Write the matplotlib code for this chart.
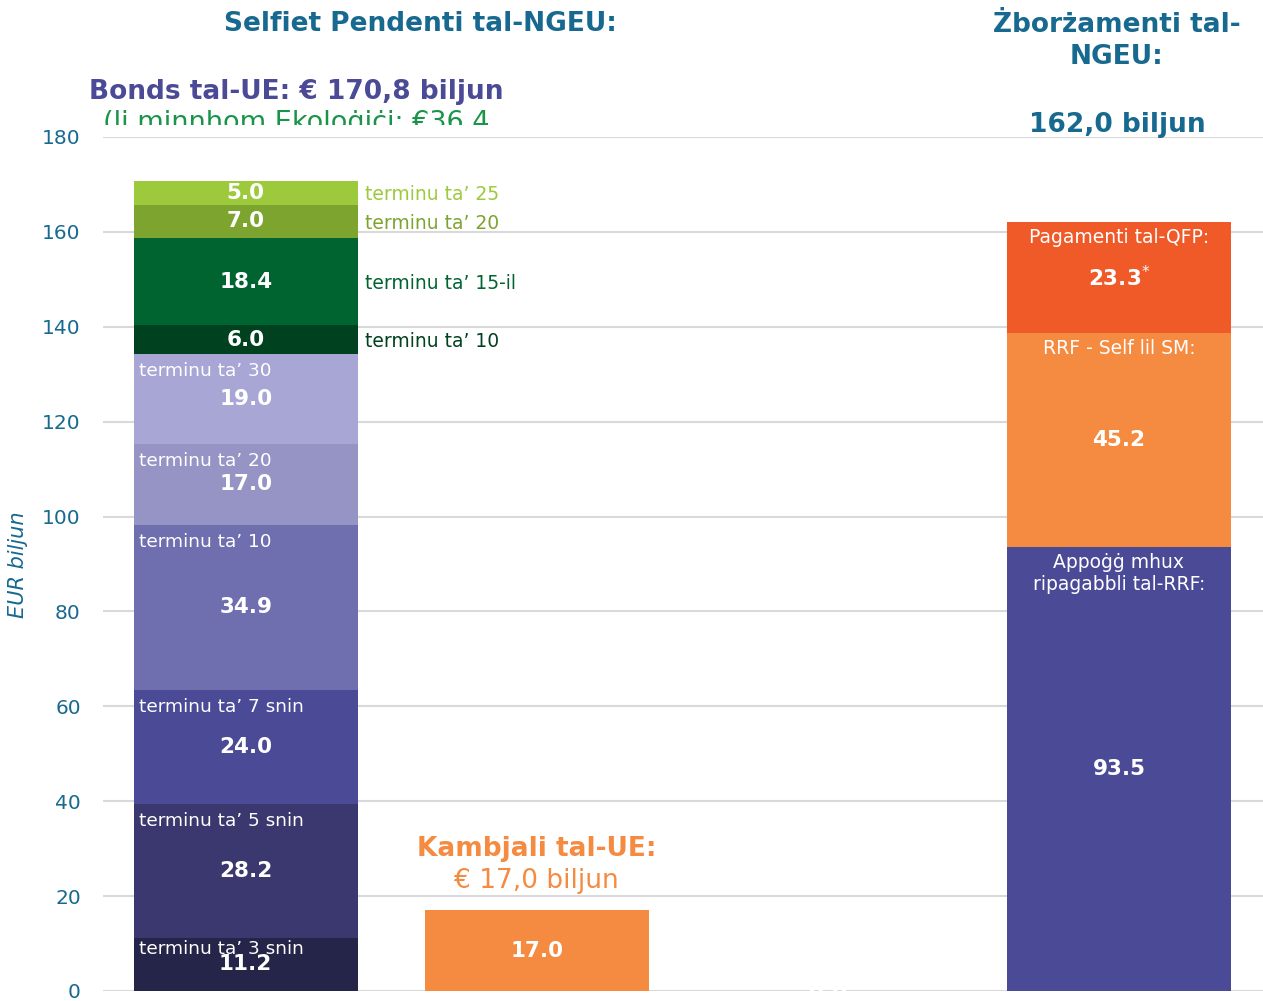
import matplotlib
matplotlib.use("Agg")
import matplotlib.pyplot as plt
from matplotlib.transforms import Bbox

# ---- data ----
categories = ["Bonds tal-UE", "Kambjali tal-UE", "", "Żborżamenti tal-NGEU"]
bond_values = [11.2, 28.2, 24.0, 34.9, 17.0, 19.0, 6.0, 18.4, 7.0, 5.0]
bond_labels = ["terminu ta’ 3 snin", "terminu ta’ 5 snin", "terminu ta’ 7 snin",
               "terminu ta’ 10", "terminu ta’ 20", "terminu ta’ 30",
               "terminu ta’ 10", "terminu ta’ 15-il", "terminu ta’ 20", "terminu ta’ 25"]
bond_green = [False]*6 + [True]*4
bond_colors = ["#252449", "#3a386e", "#4b4a96", "#6f6eae", "#9694c4", "#a7a6d5",
               "#00411f", "#006431", "#7ea430", "#9dca3c"]
bill_value = 17.0
empty_value = 0.0
disb_values = [93.5, 45.2, 23.3]
disb_labels = ["Appoġġ mhux\nripagabbli tal-RRF:", "RRF - Self lil SM:", "Pagamenti tal-QFP:"]
disb_colors = ["#4b4a96", "#f58b40", "#f05a29"]
yticks = [0, 20, 40, 60, 80, 100, 120, 140, 160, 180]

W, H = 1263, 1001
fig = plt.figure(figsize=(W/100, H/100), dpi=100)
ax = fig.add_axes([103/W, 1-991/H, 1-103/W, (991-137)/H])

blue = "#17698f"
ax.set_ylim(0, 180)
ax.set_xlim(-0.49, 3.495)
ax.set_yticks(yticks)
ax.tick_params(axis="y", length=0, pad=16, labelsize=14.5, labelcolor=blue)
ax.set_xticks([])
for s in ax.spines.values():
    s.set_visible(False)
ax.yaxis.grid(True, color="#d9d9d9", linewidth=1.5)
ax.set_axisbelow(True)

bw = 0.77
px = 180/854.0  # data units per pixel (y)
vfs = 15.5
lfs = 13.3

# bar 1 stacked
bottom = 0
for i, (v, lab, g, c) in enumerate(zip(bond_values, bond_labels, bond_green, bond_colors)):
    ax.bar(0, v, bw, bottom=bottom, color=c, zorder=2)
    mid = bottom + v/2
    top = bottom + v
    ax.text(0, mid, f"{v:.1f}", ha="center", va="center", color="white",
            fontsize=vfs, fontweight="bold", zorder=3)
    if g:
        ax.text(bw/2 + 0.025, mid - 2*px, lab, ha="left", va="center", color=c,
                fontsize=13.5, zorder=3)
    else:
        off = 11*px if v < 15 else 17*px
        ax.text(-bw/2 + 0.02, top - off, lab, ha="left", va="center", color="white",
                fontsize=lfs, zorder=4)
    bottom = top

# bar 2
ax.bar(1, bill_value, bw, color="#f58b40", zorder=2)
ax.text(1, bill_value/2, f"{bill_value:.1f}", ha="center", va="center", color="white",
        fontsize=vfs, fontweight="bold", zorder=3)

# bar 3 (empty)
ax.bar(2, empty_value, bw, color="white", zorder=2)
ax.text(2, empty_value/2, f"{empty_value:.1f}", ha="center", va="center", color="white",
        fontsize=vfs, fontweight="bold", zorder=3)

# bar 4 stacked
bottom = 0
for i, (v, lab, c) in enumerate(zip(disb_values, disb_labels, disb_colors)):
    ax.bar(3, v, bw, bottom=bottom, color=c, zorder=2)
    mid = bottom + v/2
    top = bottom + v
    txt = f"{v:.1f}" if i < 2 else r"$\mathbf{" + f"{v:.1f}" + r"}^{*}$"
    ax.text(3, mid, txt, ha="center", va="center", color="white",
            fontsize=vfs, fontweight="bold", zorder=3)
    ax.text(3, top - 6*px, lab, ha="center", va="top", color="white",
            fontsize=13.5, linespacing=1.15, zorder=3)
    bottom = top

# annotations
ax.text(1, bill_value + 12.9, "Kambjali tal-UE:", ha="center", va="center",
        color="#f58b40", fontsize=19, fontweight="bold")
ax.text(1, bill_value + 6.1, "€ 17,0 biljun", ha="center", va="center",
        color="#f58b40", fontsize=19)

fig.text(420/W, 1-24/H, "Selfiet Pendenti tal-NGEU:", ha="center", va="center",
         color=blue, fontsize=19, fontweight="bold")
fig.text(296/W, 1-92/H, "Bonds tal-UE: € 170,8 biljun", ha="center", va="center",
         color="#4b4a96", fontsize=19, fontweight="bold")
t = fig.text(296/W, 1-123/H, "(li minnhom Ekoloġiċi: €36,4", ha="center", va="center",
             color="#1a9448", fontsize=19.5)
t.set_clip_box(Bbox.from_extents(0, H-125, W, H))
t.set_clip_on(True)

fig.text(1117/W, 1-41/H, "Żborżamenti tal-\nNGEU:", ha="center", va="center",
         color=blue, fontsize=19, fontweight="bold", linespacing=1.25)
fig.text(1117/W, 1-125/H, "162,0 biljun", ha="center", va="center",
         color=blue, fontsize=19, fontweight="bold")

fig.text(18/W, 1-565/H, "EUR biljun", ha="center", va="center", rotation=90,
         color=blue, fontsize=15, style="italic")

fig.savefig("out.png", dpi=100)
